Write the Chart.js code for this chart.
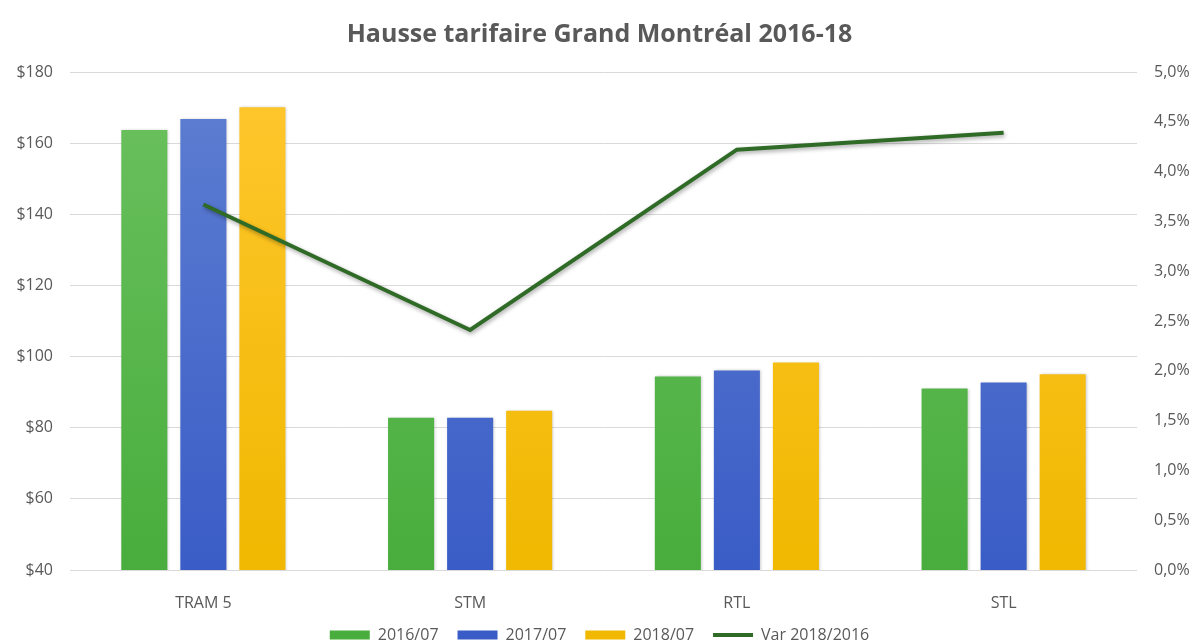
<!DOCTYPE html>
<html>
<head>
<meta charset="utf-8">
<script src="https://cdn.jsdelivr.net/npm/chart.js@4/dist/chart.umd.min.js"></script>
<style>
  html, body { margin: 0; padding: 0; background: #fff; }
  #wrap { width: 1199px; height: 642px; }
</style>
</head>
<body>
<div id="wrap"><canvas id="myChart" width="1199" height="642"></canvas></div>
<script>
const categories = ['TRAM 5', 'STM', 'RTL', 'STL'];
const tarif2016 = [163.7, 82.8, 94.4, 91.0];
const tarif2017 = [166.8, 82.8, 96.1, 92.7];
const tarif2018 = [170.1, 84.8, 98.3, 95.0];
const var2018 = [3.67, 2.41, 4.22, 4.39];
const seriesNames = ['2016/07', '2017/07', '2018/07', 'Var 2018/2016'];

const textColor = '#595959';
const fontFamily = '"Open Sans", "Liberation Sans", sans-serif';

// vertical gradient like the excel bars
function grad(top, bottom, solid) {
  return function(context) {
    const { ctx, chartArea } = context.chart;
    if (!chartArea) return solid;
    const g = ctx.createLinearGradient(0, chartArea.top, 0, chartArea.bottom);
    g.addColorStop(0, top);
    g.addColorStop(1, bottom);
    return g;
  };
}

const shadow = {
  id: 'shadow',
  beforeDatasetDraw: (chart, args) => {
    const ctx = chart.ctx;
    ctx.save();
    if (args.meta.type === 'line') {
      ctx.shadowColor = 'rgba(0,0,0,0.35)';
      ctx.shadowBlur = 4;
      ctx.shadowOffsetX = 1;
      ctx.shadowOffsetY = 2;
    } else {
      ctx.shadowColor = 'rgba(0,0,0,0.25)';
      ctx.shadowBlur = 3;
      ctx.shadowOffsetX = 1;
      ctx.shadowOffsetY = 0;
    }
  },
  afterDatasetDraw: (chart) => {
    chart.ctx.restore();
  }
};

const config = {
  type: 'bar',
  data: {
    labels: categories,
    datasets: [
      {
        label: seriesNames[0],
        data: tarif2016,
        backgroundColor: grad('#6cc160', '#48ad3c', '#5bb84e'),
        pointStyle: 'rect',
        yAxisID: 'y',
        order: 1
      },
      {
        label: seriesNames[1],
        data: tarif2017,
        backgroundColor: grad('#5f7fd2', '#3a5cc6', '#4a6cce'),
        pointStyle: 'rect',
        yAxisID: 'y',
        order: 1
      },
      {
        label: seriesNames[2],
        data: tarif2018,
        backgroundColor: grad('#ffc72e', '#f0b800', '#ffc000'),
        pointStyle: 'rect',
        yAxisID: 'y',
        order: 1
      },
      {
        type: 'line',
        label: seriesNames[3],
        data: var2018,
        borderColor: '#2f6b27',
        backgroundColor: '#2f6b27',
        borderWidth: 4,
        pointRadius: 0,
        pointStyle: 'line',
        tension: 0,
        yAxisID: 'y1',
        order: 0
      }
    ]
  },
  options: {
    responsive: false,
    animation: false,
    layout: {
      // legend padding runs a little past the bottom edge on purpose
      padding: { left: 0, right: 0, top: 0, bottom: -11 }
    },
    datasets: {
      bar: {
        categoryPercentage: 0.664,
        barPercentage: 0.78
      }
    },
    scales: {
      x: {
        afterFit: (scale) => { scale.height = 38; },
        grid: { display: false },
        border: { display: false },
        ticks: {
          color: textColor,
          font: { family: fontFamily, size: 16 },
          padding: 16
        }
      },
      y: {
        position: 'left',
        min: 40,
        max: 180,
        afterFit: (scale) => { scale.width = 70; },
        grid: { color: '#d9d9d9', lineWidth: 1, drawTicks: false },
        border: { display: false },
        ticks: {
          stepSize: 20,
          color: textColor,
          font: { family: fontFamily, size: 16 },
          padding: 17,
          callback: (v) => '$' + v
        }
      },
      y1: {
        position: 'right',
        min: 0,
        max: 5,
        afterFit: (scale) => { scale.width = 62; },
        grid: { drawOnChartArea: false, drawTicks: false },
        border: { display: false },
        ticks: {
          stepSize: 0.5,
          color: textColor,
          font: { family: fontFamily, size: 16 },
          padding: 17,
          callback: (v) => v.toFixed(1).replace('.', ',') + '%'
        }
      }
    },
    plugins: {
      title: {
        display: true,
        text: 'Hausse tarifaire Grand Montréal 2016-18',
        color: textColor,
        font: { family: fontFamily, size: 25, weight: 'bold' },
        padding: { top: 20, bottom: 22 }
      },
      legend: {
        position: 'bottom',
        labels: {
          color: textColor,
          font: { family: fontFamily, size: 16 },
          usePointStyle: true,
          pointStyleWidth: 40,
          boxHeight: 9,
          padding: 19,
          sort: (a, b) => a.datasetIndex - b.datasetIndex
        }
      },
      tooltip: { enabled: false }
    }
  },
  plugins: [shadow]
};

const myChart = new Chart(document.getElementById('myChart').getContext('2d'), config);
</script>
</body>
</html>
